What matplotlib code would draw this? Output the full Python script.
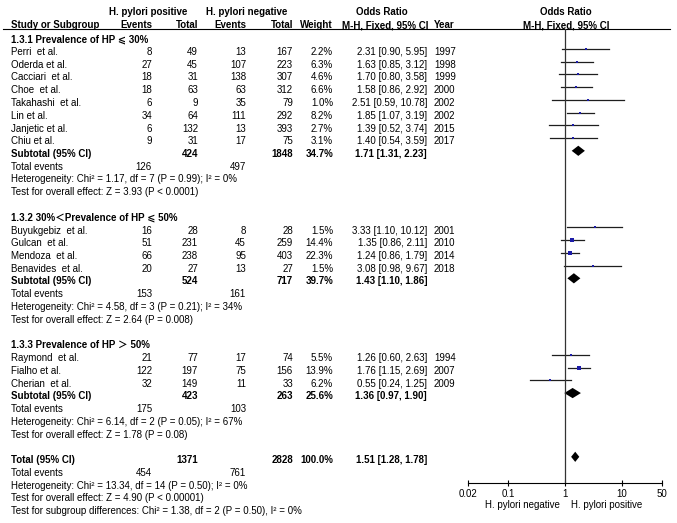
import numpy as np
import matplotlib
matplotlib.use("Agg")
import matplotlib.pyplot as plt

plt.rcParams["font.family"] = ["Liberation Sans", "DejaVu Sans", "Noto Sans CJK SC"]
plt.rcParams["font.size"] = 7

# --- data -------------------------------------------------------------
studies = ["Perri  et al.", "Oderda et al.", "Cacciari  et al.", "Choe  et al.",
           "Takahashi  et al.", "Lin et al.", "Janjetic et al.", "Chiu et al.",
           "Buyukgebiz  et al.", "Gulcan  et al.", "Mendoza  et al.", "Benavides  et al.",
           "Raymond  et al.", "Fialho et al.", "Cherian  et al."]
group = [0, 0, 0, 0, 0, 0, 0, 0, 1, 1, 1, 1, 2, 2, 2]
pos_events = [8, 27, 18, 18, 6, 34, 6, 9, 16, 51, 66, 20, 21, 122, 32]
pos_total = [49, 45, 31, 63, 9, 64, 132, 31, 28, 231, 238, 27, 77, 197, 149]
neg_events = [13, 107, 138, 63, 35, 111, 13, 17, 8, 45, 95, 13, 17, 75, 11]
neg_total = [167, 223, 307, 312, 79, 292, 393, 75, 28, 259, 403, 27, 74, 156, 33]
weight = [2.2, 6.3, 4.6, 6.6, 1.0, 8.2, 2.7, 3.1, 1.5, 14.4, 22.3, 1.5, 5.5, 13.9, 6.2]
odds = [2.31, 1.63, 1.70, 1.58, 2.51, 1.85, 1.39, 1.40, 3.33, 1.35, 1.24, 3.08, 1.26, 1.76, 0.55]
ci_lo = [0.90, 0.85, 0.80, 0.86, 0.59, 1.07, 0.52, 0.54, 1.10, 0.86, 0.86, 0.98, 0.60, 1.15, 0.24]
ci_hi = [5.95, 3.12, 3.58, 2.92, 10.78, 3.19, 3.74, 3.59, 10.12, 2.11, 1.79, 9.67, 2.63, 2.69, 1.25]
years = [1997, 1998, 1999, 2000, 2002, 2002, 2015, 2017, 2001, 2010, 2014, 2018, 1994, 2007, 2009]

group_titles = ["1.3.1 Prevalence of HP ⩽ 30%",
                "1.3.2 30%＜Prevalence of HP ⩽ 50%",
                "1.3.3 Prevalence of HP ＞ 50%"]
sub_pos_total = [424, 524, 423]
sub_neg_total = [1848, 717, 263]
sub_weight = [34.7, 39.7, 25.6]
sub_or = [1.71, 1.43, 1.36]
sub_lo = [1.31, 1.10, 0.97]
sub_hi = [2.23, 1.86, 1.90]
sub_pos_events = [126, 153, 175]
sub_neg_events = [497, 161, 103]
het_chi2 = [1.17, 4.58, 6.14]
het_df = [7, 3, 2]
het_p = ["0.99", "0.21", "0.05"]
het_i2 = [0, 34, 67]
z_val = [3.93, 2.64, 1.78]
z_p = ["< 0.0001", "= 0.008", "= 0.08"]

tot_pos_total, tot_neg_total = 1371, 2828
tot_or, tot_lo, tot_hi = 1.51, 1.28, 1.78
tot_pos_events, tot_neg_events = 454, 761
tot_het = "Heterogeneity: Chi² = 13.34, df = 14 (P = 0.50); I² = 0%"
tot_test = "Test for overall effect: Z = 4.90 (P < 0.00001)"
sub_diff = "Test for subgroup differences: Chi² = 1.38, df = 2 (P = 0.50), I² = 0%"

ticks = [0.02, 0.1, 1, 10, 50]

# --- layout (pixels / rows) -----------------------------------------------
W, H = 677, 523
ROW0, DROW = 52, 12.75
X_NAME, X_PE, X_PT, X_NE, X_NT, X_W, X_OR, X_YR = 11, 152, 198, 246, 293, 333, 427, 434


def prow(px):
    return (px - ROW0) / DROW


fig = plt.figure(figsize=(W / 100, H / 100), dpi=100)
ax = fig.add_axes([0, 0, 1, 1])
ax.set_xlim(0, W)
ax.set_ylim(prow(H), prow(0))
ax.axis("off")

fx0, fx1, fy0, fy1 = 468, 662, 29, 483
axf = fig.add_axes([fx0 / W, 1 - fy1 / H, (fx1 - fx0) / W, (fy1 - fy0) / H])
axf.set_facecolor("none")
axf.set_xscale("log")
axf.set_xlim(ticks[0], ticks[-1])
axf.set_ylim(prow(fy1), prow(fy0))


def txt(x, r, s, ha="left", bold=False):
    ax.text(x, r, s, ha=ha, va="center", fontweight="bold" if bold else "normal")


# headers
hr1, hr2 = prow(12), prow(25.5)
for x, s in [(148, "H. pylori positive"), (247, "H. pylori negative"), (382, "Odds Ratio"),
             (566, "Odds Ratio")]:
    txt(x, hr1, s, ha="center", bold=True)
for x, s, ha in [(X_NAME, "Study or Subgroup", "left"), (X_PE, "Events", "right"),
                 (X_PT, "Total", "right"), (X_NE, "Events", "right"), (X_NT, "Total", "right"),
                 (X_W, "Weight", "right"), (X_OR + 1, "M-H, Fixed, 95% CI", "right"),
                 (X_YR, "Year", "left"), (566, "M-H, Fixed, 95% CI", "center")]:
    txt(x, hr2, s, ha=ha, bold=True)
ax.plot([3, 670], [prow(fy0)] * 2, color="black", lw=0.8)


def ci_text(o, lo, hi):
    return f"{o:.2f} [{lo:.2f}, {hi:.2f}]"


def diamond(o, lo, hi, r):
    h = 0.4
    axf.fill([lo, o, hi, o], [r, r - h, r, r + h], color="black", lw=0)


SHIFT = -0.25
row = -1
idx = np.array(group)
for g in range(3):
    txt(X_NAME, row, group_titles[g], bold=True)
    row += 1
    for i in np.where(idx == g)[0]:
        txt(X_NAME, row, studies[i])
        txt(X_PE, row, str(pos_events[i]), ha="right")
        txt(X_PT, row, str(pos_total[i]), ha="right")
        txt(X_NE, row, str(neg_events[i]), ha="right")
        txt(X_NT, row, str(neg_total[i]), ha="right")
        txt(X_W, row, f"{weight[i]:.1f}%", ha="right")
        txt(X_OR, row, ci_text(odds[i], ci_lo[i], ci_hi[i]), ha="right")
        txt(X_YR, row, str(years[i]))
        r = row + SHIFT
        axf.plot([ci_lo[i], ci_hi[i]], [r, r], color="#1e1e1e", lw=0.9)
        side = max(2.3, 1.0 * np.sqrt(weight[i])) * 0.72
        axf.plot(odds[i], r, marker="s", ms=side, mfc="#1c1ca8", mec="#1c1ca8", mew=0)
        row += 1
    txt(X_NAME, row, "Subtotal (95% CI)", bold=True)
    txt(X_PT, row, str(sub_pos_total[g]), ha="right", bold=True)
    txt(X_NT, row, str(sub_neg_total[g]), ha="right", bold=True)
    txt(X_W, row, f"{sub_weight[g]:.1f}%", ha="right", bold=True)
    txt(X_OR, row, ci_text(sub_or[g], sub_lo[g], sub_hi[g]), ha="right", bold=True)
    diamond(sub_or[g], sub_lo[g], sub_hi[g], row + SHIFT)
    txt(X_NAME, row + 1, "Total events")
    txt(X_PE, row + 1, str(sub_pos_events[g]), ha="right")
    txt(X_NE, row + 1, str(sub_neg_events[g]), ha="right")
    txt(X_NAME, row + 2, f"Heterogeneity: Chi² = {het_chi2[g]:.2f}, df = {het_df[g]} "
                         f"(P = {het_p[g]}); I² = {het_i2[g]}%")
    txt(X_NAME, row + 3, f"Test for overall effect: Z = {z_val[g]:.2f} (P {z_p[g]})")
    row += 5

# overall
txt(X_NAME, row, "Total (95% CI)", bold=True)
txt(X_PT, row, str(tot_pos_total), ha="right", bold=True)
txt(X_NT, row, str(tot_neg_total), ha="right", bold=True)
txt(X_W, row, "100.0%", ha="right", bold=True)
txt(X_OR, row, ci_text(tot_or, tot_lo, tot_hi), ha="right", bold=True)
diamond(tot_or, tot_lo, tot_hi, row + SHIFT)
txt(X_NAME, row + 1, "Total events")
txt(X_PE, row + 1, str(tot_pos_events), ha="right")
txt(X_NE, row + 1, str(tot_neg_events), ha="right")
txt(X_NAME, row + 2, tot_het)
txt(X_NAME, row + 3, tot_test)
txt(X_NAME, row + 4, sub_diff)

# forest axis
axf.axvline(1, color="#333333", lw=0.9)
for s in ["top", "right", "left"]:
    axf.spines[s].set_visible(False)
axf.spines["bottom"].set_linewidth(0.8)
axf.set_xticks(ticks)
axf.set_xticklabels([f"{t:g}" for t in ticks])
axf.xaxis.set_minor_locator(matplotlib.ticker.NullLocator())
axf.tick_params(axis="x", direction="inout", length=5, width=0.8, pad=1.5, labelsize=7)
axf.set_yticks([])

txt(560, prow(505), "H. pylori negative", ha="right")
txt(571, prow(505), "H. pylori positive", ha="left")

fig.savefig("out.png", dpi=100)
